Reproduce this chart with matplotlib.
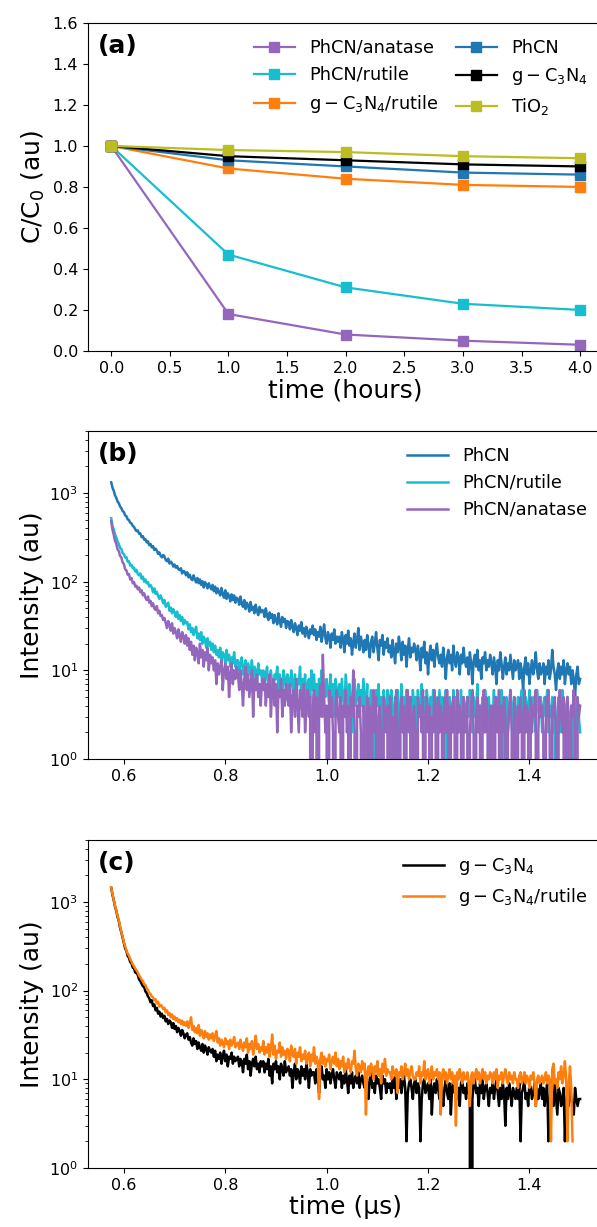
import numpy as np
import matplotlib
matplotlib.use("Agg")
from matplotlib import pyplot as plt

# ---- panel (a): photodegradation ----
hours = [0, 1, 2, 3, 4]
c_anatase = [1.0, 0.18, 0.08, 0.05, 0.03]
c_rutile = [1.0, 0.47, 0.31, 0.23, 0.20]
c_gcn_rutile = [1.0, 0.89, 0.84, 0.81, 0.80]
c_phcn = [1.0, 0.93, 0.90, 0.87, 0.86]
c_gcn = [1.0, 0.95, 0.93, 0.91, 0.90]
c_tio2 = [1.0, 0.98, 0.97, 0.95, 0.94]

# ---- panel (b): PL decay of PhCN samples, one reading every 2.5 ns from 0.575 us ----
pl_phcn = [
    1320, 1150, 1060, 940, 885, 800, 770, 705, 675, 625, 610, 560, 548, 505, 495, 462, 455, 425, 415, 388,
    372, 378, 348, 350, 318, 326, 298, 302, 278, 285, 258, 266, 244, 252, 228, 236, 224, 206, 214, 196,
    188, 200, 192, 176, 170, 182, 160, 168, 162, 148, 156, 144, 150, 138, 135, 142, 124, 132, 129, 118,
    128, 112, 120, 108, 104, 118, 106, 98, 110, 96, 106, 92, 101, 86, 99, 93, 84, 96, 88, 82,
    92, 78, 88, 74, 84, 76, 70, 85, 72, 66, 80, 64, 74, 69, 60, 72, 62, 70, 58, 66,
    64, 55, 68, 56, 52, 62, 49, 58, 54, 46, 59, 48, 52, 44, 55, 47, 42, 52, 45, 48,
    47, 40, 50, 41, 37, 45, 39, 43, 34, 42, 37, 33, 44, 36, 31, 40, 35, 38, 30, 36,
    35, 29, 37, 31, 27, 34, 30, 25, 32, 28, 35, 26, 30, 24, 31, 27, 23, 29, 26, 32,
    25, 29, 22, 27, 24, 31, 21, 26, 33, 23, 20, 27, 24, 18, 26, 22, 29, 20, 24, 21,
    24, 18, 27, 22, 16, 25, 20, 28, 19, 23, 15, 21, 26, 18, 22, 30, 17, 24, 20, 16,
    22, 17, 25, 19, 14, 21, 24, 16, 20, 27, 18, 13, 22, 19, 25, 15, 21, 18, 23, 16,
    19, 14, 22, 17, 12, 20, 16, 24, 18, 13, 21, 15, 19, 11, 17, 23, 14, 18, 16, 20,
    17, 13, 19, 15, 10, 18, 14, 21, 12, 16, 9, 15, 19, 13, 17, 11, 16, 20, 14, 12,
    15, 11, 18, 13, 8, 14, 17, 12, 15, 10, 19, 13, 11, 16, 14, 9, 15, 12, 18, 13,
    11, 14, 9, 16, 12, 7, 13, 15, 11, 17, 10, 13, 8, 14, 12, 16, 10, 13, 11, 15,
    12, 9, 14, 11, 7, 13, 10, 16, 12, 8, 11, 14, 9, 12, 10, 15, 11, 8, 13, 10,
    11, 13, 8, 12, 10, 6, 11, 14, 9, 12, 7, 10, 13, 9, 11, 16, 10, 8, 12, 9,
    10, 12, 7, 11, 9, 13, 8, 10, 17, 11, 9, 6, 10, 12, 8, 11, 9, 13, 7, 10,
    12, 9, 11, 7, 10, 8, 5, 9, 11, 7, 8,
]
pl_phcn_rutile = [
    520, 425, 390, 340, 318, 282, 266, 240, 235, 210, 205, 188, 189, 168, 170, 152, 155, 142, 144, 130,
    136, 122, 118, 124, 108, 114, 100, 106, 96, 99, 88, 92, 86, 76, 84, 73, 77, 69, 64, 70,
    64, 57, 62, 52, 55, 58, 47, 51, 44, 49, 45, 40, 46, 38, 42, 36, 40, 33, 37, 34,
    35, 29, 33, 27, 30, 25, 28, 31, 23, 26, 22, 27, 20, 24, 22, 18, 23, 19, 21, 17,
    20, 16, 19, 15, 17, 14, 18, 13, 16, 15, 12, 17, 13, 15, 11, 14, 12, 16, 11, 13,
    13, 10, 12, 14, 9, 11, 13, 8, 12, 10, 9, 13, 8, 11, 10, 7, 12, 9, 10, 8,
    10, 7, 9, 11, 6, 8, 10, 7, 5, 9, 8, 11, 6, 9, 7, 5, 10, 8, 6, 9,
    8, 5, 10, 7, 6, 9, 4, 8, 7, 11, 5, 8, 6, 9, 4, 7, 8, 5, 10, 6,
    9, 5, 7, 4, 8, 6, 10, 3, 7, 5, 8, 6, 4, 9, 5, 7, 3, 8, 6, 5,
    7, 4, 8, 5, 3, 9, 6, 4, 7, 5, 2, 6, 8, 4, 5, 7, 3, 6, 4, 8,
    5, 3, 7, 0, 4, 6, 2, 5, 0, 6, 4, 7, 3, 5, 2, 6, 4, 3, 6, 5,
    3, 6, 4, 0, 5, 2, 6, 0, 4, 7, 3, 5, 2, 6, 4, 3, 5, 2, 6, 4,
    5, 2, 6, 3, 4, 7, 2, 5, 3, 6, 4, 2, 5, 3, 6, 4, 5, 2, 3, 6,
    3, 5, 2, 4, 6, 3, 0, 5, 4, 2, 6, 3, 5, 2, 4, 3, 6, 2, 5, 4,
    2, 5, 3, 6, 4, 2, 5, 3, 4, 7, 2, 4, 3, 5, 2, 6, 4, 3, 5, 2,
    4, 3, 6, 2, 5, 3, 4, 2, 6, 3, 0, 4, 5, 2, 3, 6, 4, 2, 5, 3,
    3, 5, 2, 4, 6, 3, 2, 5, 4, 3, 6, 2, 4, 5, 3, 2, 6, 4, 3, 5,
    2, 4, 5, 3, 6, 2, 4, 3, 5, 2, 4, 0, 3, 5, 2, 4, 6, 3, 2, 4,
    5, 3, 2, 4, 0, 3, 5, 2, 4, 3, 2,
]
pl_phcn_anatase = [
    480, 385, 340, 290, 268, 232, 222, 195, 188, 165, 158, 138, 134, 120, 122, 106, 110, 96, 99, 88,
    90, 82, 86, 76, 80, 70, 74, 66, 62, 68, 58, 61, 53, 57, 50, 48, 53, 44, 47, 41,
    42, 37, 39, 34, 30, 36, 32, 28, 34, 26, 30, 27, 23, 29, 25, 21, 27, 24, 20, 25,
    19, 23, 17, 21, 15, 19, 13, 18, 16, 12, 20, 14, 17, 11, 16, 13, 18, 10, 15, 12,
    14, 10, 13, 7, 12, 9, 11, 13, 6, 10, 12, 8, 11, 5, 9, 12, 7, 10, 8, 11,
    9, 6, 10, 7, 4, 8, 11, 6, 9, 5, 7, 10, 3, 8, 6, 9, 5, 7, 4, 8,
    6, 8, 4, 7, 5, 9, 3, 6, 8, 4, 7, 2, 6, 5, 8, 3, 6, 4, 7, 5,
    4, 7, 2, 5, 6, 3, 8, 4, 2, 6, 5, 3, 7, 2, 4, 6, 3, 5, 0, 4,
    6, 2, 5, 0, 4, 7, 3, 15, 5, 2, 4, 0, 6, 3, 5, 2, 0, 4, 6, 3,
    2, 5, 0, 4, 3, 6, 2, 4, 0, 5, 3, 10, 2, 0, 4, 3, 5, 2, 0, 4,
    3, 0, 5, 2, 4, 0, 3, 6, 2, 5, 0, 3, 4, 2, 0, 5, 3, 2, 4, 0,
    5, 2, 3, 0, 4, 6, 2, 0, 3, 5, 2, 4, 0, 3, 6, 2, 5, 0, 3, 4,
    2, 0, 5, 3, 4, 2, 6, 0, 3, 5, 2, 4, 0, 3, 2, 6, 4, 0, 5, 2,
    4, 3, 0, 5, 2, 6, 3, 0, 4, 2, 5, 3, 0, 6, 2, 4, 3, 0, 5, 2,
    3, 5, 0, 2, 4, 6, 2, 0, 3, 5, 2, 4, 0, 3, 6, 2, 5, 3, 0, 4,
    2, 4, 0, 5, 3, 2, 6, 0, 4, 2, 5, 3, 0, 2, 4, 6, 2, 0, 5, 3,
    0, 4, 2, 5, 3, 0, 6, 2, 4, 3, 0, 5, 2, 4, 3, 6, 0, 2, 5, 3,
    4, 2, 0, 5, 3, 6, 2, 0, 4, 3, 5, 2, 0, 4, 6, 3, 2, 5, 0, 3,
    5, 2, 0, 4, 3, 6, 2, 0, 5, 3, 4,
]

# ---- panel (c): PL decay of g-C3N4 samples ----
pl_gcn = [
    1440, 1210, 1050, 890, 795, 680, 610, 510, 455, 395, 345, 300, 280, 246, 235, 210, 204, 182, 178, 160,
    158, 150, 134, 128, 120, 112, 110, 98, 94, 86, 82, 74, 78, 67, 70, 60, 64, 55, 58, 51,
    55, 49, 52, 45, 48, 42, 46, 44, 38, 43, 37, 40, 34, 38, 35, 31, 36, 33, 29, 32,
    33, 28, 30, 26, 24, 29, 25, 27, 22, 26, 23, 21, 25, 20, 24, 22, 19, 23, 21, 20,
    22, 18, 21, 16, 19, 17, 20, 15, 18, 21, 16, 19, 14, 18, 17, 20, 15, 18, 16, 17,
    18, 14, 17, 16, 12, 17, 15, 19, 13, 16, 11, 15, 17, 14, 18, 13, 15, 12, 16, 14,
    16, 12, 15, 13, 17, 11, 14, 9, 15, 13, 16, 12, 14, 10, 15, 13, 11, 16, 12, 13,
    14, 11, 13, 8, 12, 15, 10, 13, 12, 9, 14, 11, 13, 10, 15, 12, 8, 13, 11, 12,
    12, 9, 13, 11, 7, 12, 14, 10, 11, 8, 13, 10, 12, 9, 11, 13, 10, 8, 12, 11,
    10, 12, 8, 11, 9, 13, 10, 7, 11, 9, 12, 8, 10, 11, 9, 12, 8, 10, 11, 9,
    8, 11, 9, 6, 10, 12, 8, 9, 7, 11, 9, 10, 8, 6, 11, 9, 10, 7, 9, 8,
    9, 7, 10, 8, 11, 6, 9, 8, 10, 7, 9, 11, 8, 2, 7, 9, 10, 8, 6, 9,
    10, 7, 9, 8, 2, 6, 9, 10, 7, 8, 9, 6, 10, 4, 8, 9, 7, 10, 8, 6,
    9, 7, 5, 8, 10, 7, 6, 9, 4, 8, 10, 7, 9, 6, 8, 5, 9, 10, 7, 8,
    6, 9, 7, 8, 0, 6, 9, 10, 7, 8, 5, 9, 7, 10, 6, 8, 9, 7, 5, 8,
    7, 9, 6, 8, 10, 7, 5, 8, 6, 9, 7, 3, 8, 6, 9, 7, 5, 8, 7, 6,
    8, 6, 9, 2, 7, 8, 10, 6, 7, 5, 9, 8, 6, 7, 9, 5, 8, 6, 7, 9,
    6, 8, 5, 7, 9, 2, 6, 8, 7, 5, 9, 6, 4, 8, 7, 5, 6, 8, 2, 6,
    7, 5, 9, 6, 5, 4, 8, 6, 5, 6, 6,
]
pl_gcn_rutile = [
    1460, 1230, 1060, 905, 810, 700, 620, 530, 460, 410, 350, 315, 285, 262, 248, 228, 212, 198, 188, 176,
    170, 160, 148, 142, 133, 128, 118, 116, 106, 102, 94, 92, 86, 84, 78, 80, 72, 75, 66, 69,
    67, 62, 64, 57, 60, 53, 56, 50, 54, 48, 51, 46, 49, 44, 47, 42, 46, 41, 44, 40,
    45, 38, 43, 50, 36, 40, 34, 38, 33, 41, 31, 36, 33, 29, 35, 30, 33, 28, 32, 29,
    33, 27, 31, 35, 26, 29, 24, 28, 26, 23, 29, 25, 27, 22, 28, 24, 26, 30, 23, 25,
    26, 22, 28, 24, 21, 26, 23, 29, 20, 25, 22, 27, 19, 24, 31, 22, 25, 20, 23, 21,
    27, 19, 23, 20, 25, 18, 22, 32, 19, 24, 17, 21, 20, 26, 18, 23, 19, 21, 17, 22,
    21, 16, 24, 19, 18, 22, 15, 20, 18, 23, 16, 19, 17, 21, 15, 18, 20, 14, 19, 16,
    23, 15, 18, 16, 6, 17, 20, 15, 18, 14, 17, 16, 19, 13, 16, 18, 15, 20, 14, 17,
    13, 16, 14, 18, 12, 15, 13, 17, 14, 12, 16, 15, 21, 13, 11, 15, 14, 12, 16, 13,
    15, 4, 12, 14, 11, 15, 13, 10, 14, 12, 16, 11, 13, 9, 15, 12, 17, 11, 13, 12,
    12, 10, 14, 12, 11, 13, 7, 12, 11, 14, 10, 12, 15, 11, 13, 10, 12, 14, 11, 10,
    10, 12, 11, 14, 9, 12, 11, 16, 10, 12, 13, 9, 11, 14, 10, 12, 11, 13, 10, 12,
    4, 11, 13, 10, 12, 9, 11, 13, 10, 12, 9, 11, 3, 12, 10, 13, 11, 9, 12, 10,
    10, 12, 9, 5, 11, 12, 9, 11, 13, 10, 12, 9, 11, 13, 10, 12, 9, 11, 10, 12,
    11, 9, 12, 10, 13, 8, 11, 10, 12, 9, 11, 13, 10, 9, 12, 10, 11, 9, 12, 10,
    10, 8, 11, 12, 9, 10, 12, 9, 11, 10, 8, 11, 10, 12, 9, 5, 10, 11, 9, 10,
    11, 9, 10, 12, 9, 11, 10, 2, 13, 15, 9, 10, 8, 12, 10, 14, 9, 11, 16, 10,
    2, 9, 14, 8, 2,
]

t0, dt = 0.575, 0.0025


def time_axis(values):
    return t0 + dt * np.arange(len(values))


fig = plt.figure(figsize=(5.97, 12.27), dpi=100)
tick_fs = 11.5
label_fs = 18
leg_fs = 12.8

# (a)
ax1 = fig.add_axes([0.147, 0.714, 0.864, 0.2673])
sq = dict(marker='s', markersize=7.5, linewidth=1.6)
ax1.plot(hours, c_anatase, color='tab:purple', label='PhCN/anatase', **sq)
ax1.plot(hours, c_rutile, color='tab:cyan', label='PhCN/rutile', **sq)
ax1.plot(hours, c_gcn_rutile, color='tab:orange', label=r'$\mathrm{g-C_3N_4}$/rutile', **sq)
ax1.plot(hours, c_phcn, color='tab:blue', label='PhCN', **sq)
ax1.plot(hours, c_gcn, color='black', label=r'$\mathrm{g-C_3N_4}$', **sq)
ax1.plot(hours, c_tio2, color='tab:olive', label=r'TiO$_2$', **sq)
ax1.set_ylim(0, 1.6)
ax1.set_xlabel('time (hours)', fontsize=label_fs, labelpad=2)
ax1.set_ylabel(r'C/C$_0$ (au)', fontsize=label_fs)
ax1.tick_params(labelsize=tick_fs)
ax1.legend(ncol=2, loc='upper right', frameon=False, fontsize=leg_fs,
           handlelength=2.3, columnspacing=1.0)
ax1.text(0.02, 0.93, '(a)', transform=ax1.transAxes, fontsize=18,
         fontweight='bold', va='center')

# (b)
ax2 = fig.add_axes([0.147, 0.3814, 0.864, 0.2673])
lw = 1.8
ax2.plot(time_axis(pl_phcn), pl_phcn, color='tab:blue', lw=lw, label='PhCN')
ax2.plot(time_axis(pl_phcn_rutile), pl_phcn_rutile, color='tab:cyan', lw=lw, label='PhCN/rutile')
ax2.plot(time_axis(pl_phcn_anatase), pl_phcn_anatase, color='tab:purple', lw=lw, label='PhCN/anatase')
ax2.set_yscale('log')
ax2.set_ylim(1, 5000)
ax2.set_ylabel('Intensity (au)', fontsize=label_fs)
ax2.tick_params(labelsize=tick_fs)
ax2.legend(loc='upper right', frameon=False, fontsize=leg_fs, handlelength=2.3)
ax2.text(0.02, 0.93, '(b)', transform=ax2.transAxes, fontsize=18,
         fontweight='bold', va='center')

# (c)
ax3 = fig.add_axes([0.147, 0.0481, 0.864, 0.2673])
ax3.plot(time_axis(pl_gcn), pl_gcn, color='black', lw=lw, label=r'$\mathrm{g-C_3N_4}$')
ax3.plot(time_axis(pl_gcn_rutile), pl_gcn_rutile, color='tab:orange', lw=lw,
         label=r'$\mathrm{g-C_3N_4}$/rutile')
ax3.set_yscale('log')
ax3.set_ylim(1, 5000)
ax3.set_xlim(ax2.get_xlim())
ax3.set_xlabel('time (μs)', fontsize=label_fs, labelpad=2)
ax3.set_ylabel('Intensity (au)', fontsize=label_fs)
ax3.tick_params(labelsize=tick_fs)
ax3.legend(loc='upper right', frameon=False, fontsize=leg_fs, handlelength=2.3)
ax3.text(0.02, 0.93, '(c)', transform=ax3.transAxes, fontsize=18,
         fontweight='bold', va='center')

fig.savefig('out.png', dpi=100)
